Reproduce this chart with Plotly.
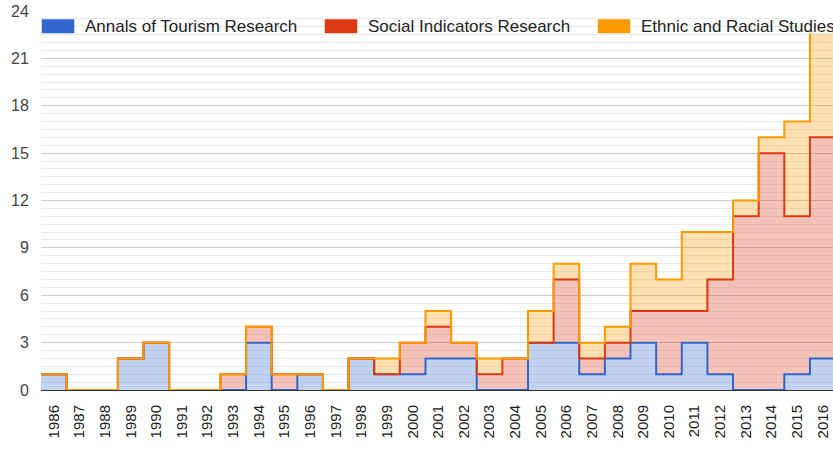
import plotly.graph_objects as go

years = [str(y) for y in range(1986, 2017)]
annals = [1, 0, 0, 2, 3, 0, 0, 0, 3, 0, 1, 0, 2, 1, 1, 2, 2, 0, 0, 3, 3, 1, 2, 3, 1, 3, 1, 0, 0, 1, 2]
social = [0, 0, 0, 0, 0, 0, 0, 1, 1, 1, 0, 0, 0, 0, 2, 2, 1, 1, 2, 0, 4, 1, 1, 2, 4, 2, 6, 11, 15, 10, 14]
ethnic = [0, 0, 0, 0, 0, 0, 0, 0, 0, 0, 0, 0, 0, 1, 0, 1, 0, 1, 0, 2, 1, 1, 1, 3, 2, 5, 3, 1, 1, 6, 7]
names = ["Annals of Tourism Research", "Social Indicators Research", "Ethnic and Racial Studies"]
y_ticks = [0, 3, 6, 9, 12, 15, 18, 21, 24]

colors = ["#3366cc", "#dc3912", "#ff9900"]
fills = ["rgba(51,102,204,0.3)", "rgba(220,57,18,0.3)", "rgba(255,153,0,0.3)"]

n = len(years)
edges = [i - 0.5 for i in range(n + 1)]

cum = []
running = [0] * n
for series in (annals, social, ethnic):
    running = [a + b for a, b in zip(running, series)]
    cum.append(list(running))

fig = go.Figure()
for k in range(3):
    yv = cum[k] + [cum[k][-1]]
    fig.add_trace(go.Scatter(
        x=edges, y=yv, mode="lines",
        line=dict(color=colors[k], width=2, shape="hv"),
        fill="tozeroy" if k == 0 else "tonexty",
        fillcolor=fills[k], name=names[k], showlegend=False,
        hoverinfo="skip"))

L, R, T, B = 41, 833, 11, 390
W, H = 833, 449


def px(x):
    return (x - L) / (R - L)


def py(y):
    return (B - y) / (B - T)


shapes = []
annotations = []
legend_pos = [(42, 83), (325, 366), (598, 639)]
# white area hiding the plot under the legend at far right
shapes.append(dict(type="rect", xref="paper", yref="paper", x0=px(805), x1=px(834),
                   y0=py(33.5), y1=py(11.8), fillcolor="white", line=dict(width=0), layer="above"))
for k, (bx, tx) in enumerate(legend_pos):
    shapes.append(dict(type="rect", xref="paper", yref="paper", x0=px(bx), x1=px(bx + 32),
                       y0=py(33), y1=py(19.5), fillcolor=colors[k],
                       line=dict(color=colors[k], width=0.5), layer="above"))
    annotations.append(dict(xref="paper", yref="paper", x=px(tx), y=py(26.3), text=names[k],
                            showarrow=False, xanchor="left", yanchor="middle",
                            font=dict(family="Arial, Liberation Sans", size=17, color="#222")))

fig.update_layout(
    width=W, height=H,
    margin=dict(l=L, r=W - R, t=T, b=H - B, autoexpand=False),
    paper_bgcolor="white", plot_bgcolor="white",
    font=dict(family="Arial, Liberation Sans"),
    shapes=shapes, annotations=annotations,
    xaxis=dict(range=[-0.5, 30.4], tickvals=list(range(n)), ticktext=years,
               tickangle=-90, tickfont=dict(size=15, color="#222"), automargin=False,
               showgrid=False, zeroline=False, showline=False, ticks="",
               ticklabelstandoff=11),
    yaxis=dict(range=[0, 24], tickvals=y_ticks, tickfont=dict(size=16, color="#444"),
               gridcolor="#cccccc", gridwidth=1, automargin=False,
               minor=dict(dtick=0.5, showgrid=True, gridcolor="#ebebeb", gridwidth=1),
               zeroline=True, zerolinecolor="#333333", zerolinewidth=1,
               ticks="outside", ticklen=8, tickcolor="rgba(0,0,0,0)"),
)

fig.write_html("out.html", config={"displayModeBar": False},
               post_script="document.body.style.margin='0';document.body.style.overflow='hidden';")
